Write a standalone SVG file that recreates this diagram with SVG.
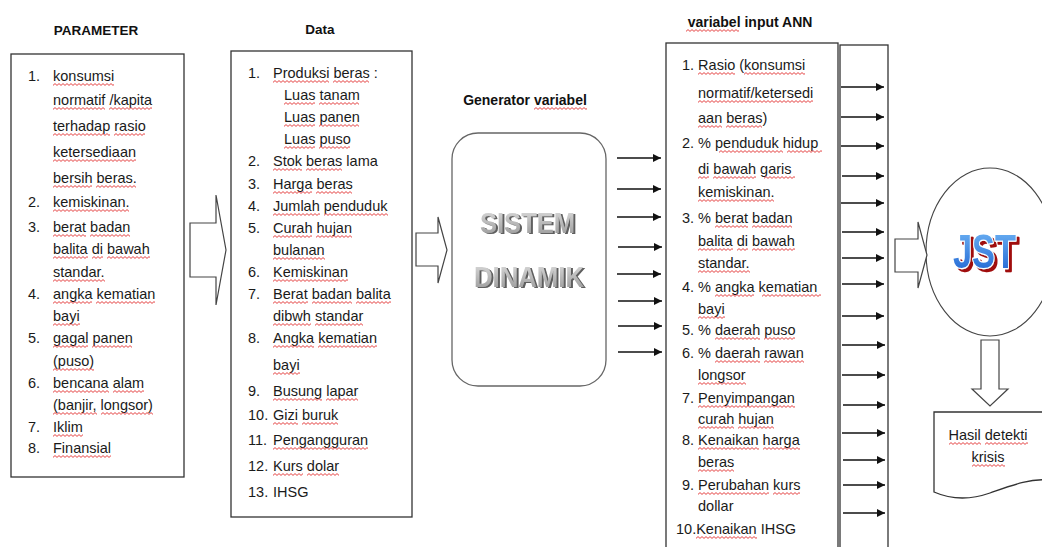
<svg xmlns="http://www.w3.org/2000/svg" width="1042" height="547" viewBox="0 0 1042 547">
  <defs>
    <style>
      .box { fill:#fff; stroke:#333; stroke-width:1.3; }
      .t { font-family:"Liberation Sans", Arial, sans-serif; font-size:14.5px; fill:#1a1a1a; }
      .h { font-family:"Liberation Sans", Arial, sans-serif; font-weight:bold; font-size:13.5px; fill:#111; text-anchor:middle; }
      .sq { fill:url(#wave); }
      .blk { fill:#fff; stroke:#444; stroke-width:1.2; }
      .ln { stroke:#111; stroke-width:1.4; fill:none; marker-end:url(#ah); }
      .art { font-family:"Liberation Sans", Arial, sans-serif; font-weight:bold; }
    </style>
    <marker id="ah" viewBox="0 0 10 10" refX="10" refY="5" markerWidth="9" markerHeight="8" markerUnits="userSpaceOnUse" orient="auto">
      <path d="M0,0 L10,5 L0,10 Z" fill="#111"/>
    </marker>
    <!-- spell-check style squiggle -->
    <pattern id="wave" width="4" height="3" patternUnits="userSpaceOnUse">
      <path d="M0,2.4 L2,0.6 L4,2.4" fill="none" stroke="#e23030" stroke-width="0.9"/>
    </pattern>
    <linearGradient id="greyArt" x1="0" y1="0" x2="0" y2="1">
      <stop offset="0" stop-color="#dedede"/>
      <stop offset="1" stop-color="#959595"/>
    </linearGradient>
    <linearGradient id="blueArt" x1="0" y1="0" x2="0" y2="1">
      <stop offset="0" stop-color="#72b8f6"/>
      <stop offset="1" stop-color="#1a5fd0"/>
    </linearGradient>
    <filter id="greyShadow" x="-10%" y="-20%" width="120%" height="140%">
      <feDropShadow dx="2" dy="1" stdDeviation="0.3" flood-color="#5e5e5e"/>
    </filter>
    <filter id="redShadow" x="-10%" y="-20%" width="130%" height="140%">
      <feDropShadow dx="3" dy="3" stdDeviation="0" flood-color="#a01010"/>
    </filter>
  </defs>

  <rect width="1042" height="547" fill="#fff"/>

  <!-- PARAMETER list -->
  <g id="node-parameter">
    <text class="h" x="96" y="35">PARAMETER</text>
    <rect class="box" x="11" y="54" width="173" height="423"/>
    <g class="t">
      <text x="28" y="81">1.</text>
      <text x="53" y="81">konsumsi</text>
      <text x="53" y="105">normatif /kapita</text>
      <text x="53" y="131">terhadap rasio</text>
      <text x="53" y="157">ketersediaan</text>
      <text x="53" y="183">bersih beras.</text>
      <text x="28" y="207">2.</text>
      <text x="53" y="207">kemiskinan.</text>
      <text x="28" y="232">3.</text>
      <text x="53" y="232">berat badan</text>
      <text x="53" y="254">balita di bawah</text>
      <text x="53" y="277">standar.</text>
      <text x="28" y="299">4.</text>
      <text x="53" y="299">angka kematian</text>
      <text x="53" y="321">bayi</text>
      <text x="28" y="343">5.</text>
      <text x="53" y="343">gagal panen</text>
      <text x="53" y="366">(puso)</text>
      <text x="28" y="388">6.</text>
      <text x="53" y="388">bencana alam</text>
      <text x="53" y="410">(banjir, longsor)</text>
      <text x="28" y="432">7.</text>
      <text x="53" y="432">Iklim</text>
      <text x="28" y="453">8.</text>
      <text x="53" y="453">Finansial</text>
    </g>
    <g>
      <rect class="sq" transform="translate(53,83)" width="61" height="3"/>
      <rect class="sq" transform="translate(53,107)" width="52" height="3"/>
      <rect class="sq" transform="translate(109,107)" width="43" height="3"/>
      <rect class="sq" transform="translate(53,133)" width="57" height="3"/>
      <rect class="sq" transform="translate(114,133)" width="31" height="3"/>
      <rect class="sq" transform="translate(53,159)" width="83" height="3"/>
      <rect class="sq" transform="translate(53,185)" width="39" height="3"/>
      <rect class="sq" transform="translate(96,185)" width="40" height="3"/>
      <rect class="sq" transform="translate(53,209)" width="76" height="3"/>
      <rect class="sq" transform="translate(53,234)" width="33" height="3"/>
      <rect class="sq" transform="translate(90,234)" width="40" height="3"/>
      <rect class="sq" transform="translate(53,256)" width="35" height="3"/>
      <rect class="sq" transform="translate(92,256)" width="11" height="3"/>
      <rect class="sq" transform="translate(107,256)" width="43" height="3"/>
      <rect class="sq" transform="translate(53,279)" width="52" height="3"/>
      <rect class="sq" transform="translate(53,301)" width="39" height="3"/>
      <rect class="sq" transform="translate(96,301)" width="59" height="3"/>
      <rect class="sq" transform="translate(53,323)" width="27" height="3"/>
      <rect class="sq" transform="translate(53,345)" width="35" height="3"/>
      <rect class="sq" transform="translate(92,345)" width="40" height="3"/>
      <rect class="sq" transform="translate(53,368)" width="41" height="3"/>
      <rect class="sq" transform="translate(53,390)" width="56" height="3"/>
      <rect class="sq" transform="translate(113,390)" width="31" height="3"/>
      <rect class="sq" transform="translate(53,412)" width="44" height="3"/>
      <rect class="sq" transform="translate(101,412)" width="52" height="3"/>
      <rect class="sq" transform="translate(53,434)" width="30" height="3"/>
      <rect class="sq" transform="translate(53,455)" width="58" height="3"/>
    </g>
  </g>

  <!-- Data list -->
  <g id="node-data">
    <text class="h" x="320" y="34">Data</text>
    <rect class="box" x="231" y="51" width="181" height="466"/>
    <g class="t">
      <text x="248" y="78">1.</text>
      <text x="273" y="78">Produksi beras :</text>
      <text x="284" y="100">Luas tanam</text>
      <text x="284" y="122">Luas panen</text>
      <text x="284" y="144">Luas puso</text>
      <text x="248" y="166">2.</text>
      <text x="273" y="166">Stok beras lama</text>
      <text x="248" y="189">3.</text>
      <text x="273" y="189">Harga beras</text>
      <text x="248" y="211">4.</text>
      <text x="273" y="211">Jumlah penduduk</text>
      <text x="248" y="233">5.</text>
      <text x="273" y="233">Curah hujan</text>
      <text x="273" y="255">bulanan</text>
      <text x="248" y="277">6.</text>
      <text x="273" y="277">Kemiskinan</text>
      <text x="248" y="299">7.</text>
      <text x="273" y="299">Berat badan balita</text>
      <text x="273" y="321">dibwh standar</text>
      <text x="248" y="343">8.</text>
      <text x="273" y="343">Angka kematian</text>
      <text x="273" y="370">bayi</text>
      <text x="248" y="396">9.</text>
      <text x="273" y="396">Busung lapar</text>
      <text x="248" y="420">10.</text>
      <text x="273" y="420">Gizi buruk</text>
      <text x="248" y="445">11.</text>
      <text x="273" y="445">Pengangguran</text>
      <text x="248" y="471">12.</text>
      <text x="273" y="471">Kurs dolar</text>
      <text x="248" y="497">13.</text>
      <text x="273" y="497">IHSG</text>
    </g>
    <g>
      <rect class="sq" transform="translate(273,80)" width="56" height="3"/>
      <rect class="sq" transform="translate(333,80)" width="36" height="3"/>
      <rect class="sq" transform="translate(284,102)" width="31" height="3"/>
      <rect class="sq" transform="translate(319,102)" width="40" height="3"/>
      <rect class="sq" transform="translate(284,124)" width="31" height="3"/>
      <rect class="sq" transform="translate(319,124)" width="40" height="3"/>
      <rect class="sq" transform="translate(284,146)" width="31" height="3"/>
      <rect class="sq" transform="translate(319,146)" width="31" height="3"/>
      <rect class="sq" transform="translate(273,168)" width="29" height="3"/>
      <rect class="sq" transform="translate(306,168)" width="36" height="3"/>
      <rect class="sq" transform="translate(273,191)" width="39" height="3"/>
      <rect class="sq" transform="translate(316,191)" width="36" height="3"/>
      <rect class="sq" transform="translate(273,213)" width="47" height="3"/>
      <rect class="sq" transform="translate(324,213)" width="64" height="3"/>
      <rect class="sq" transform="translate(273,235)" width="39" height="3"/>
      <rect class="sq" transform="translate(316,235)" width="36" height="3"/>
      <rect class="sq" transform="translate(273,257)" width="52" height="3"/>
      <rect class="sq" transform="translate(273,279)" width="75" height="3"/>
      <rect class="sq" transform="translate(273,301)" width="35" height="3"/>
      <rect class="sq" transform="translate(312,301)" width="40" height="3"/>
      <rect class="sq" transform="translate(356,301)" width="35" height="3"/>
      <rect class="sq" transform="translate(273,323)" width="38" height="3"/>
      <rect class="sq" transform="translate(315,323)" width="48" height="3"/>
      <rect class="sq" transform="translate(273,345)" width="41" height="3"/>
      <rect class="sq" transform="translate(318,345)" width="59" height="3"/>
      <rect class="sq" transform="translate(273,372)" width="27" height="3"/>
      <rect class="sq" transform="translate(273,398)" width="49" height="3"/>
      <rect class="sq" transform="translate(326,398)" width="32" height="3"/>
      <rect class="sq" transform="translate(273,422)" width="25" height="3"/>
      <rect class="sq" transform="translate(302,422)" width="36" height="3"/>
      <rect class="sq" transform="translate(273,447)" width="95" height="3"/>
      <rect class="sq" transform="translate(273,473)" width="30" height="3"/>
      <rect class="sq" transform="translate(307,473)" width="32" height="3"/>
    </g>
  </g>

  <!-- Variable generator: system dynamics -->
  <g id="node-sistem-dinamik">
    <text class="h" x="525" y="105" style="font-size:14px">Generator variabel</text>
    <rect class="sq" transform="translate(534,107)" width="53" height="3"/>
    <rect x="452" y="133" width="154" height="253" rx="26" ry="26" fill="#fff" stroke="#666" stroke-width="1.3"/>
    <g class="art" font-size="29" fill="url(#greyArt)" filter="url(#greyShadow)">
      <text x="480" y="233" textLength="95" lengthAdjust="spacingAndGlyphs">SISTEM</text>
      <text x="474" y="287" textLength="110" lengthAdjust="spacingAndGlyphs">DINAMIK</text>
    </g>
  </g>

  <!-- ANN input variables -->
  <g id="node-variabel-ann">
    <text class="h" x="750" y="27" style="font-size:14px">variabel input ANN</text>
    <rect class="sq" transform="translate(686,29)" width="53" height="3"/>
    <rect class="box" x="666" y="43" width="172" height="520"/>
    <g class="t" xml:space="preserve">
      <text x="682" y="70">1. Rasio (konsumsi</text>
      <text x="698" y="98">normatif/ketersedi</text>
      <text x="698" y="123">aan beras)</text>
      <text x="682" y="148">2. %  penduduk hidup</text>
      <text x="698" y="174">di bawah  garis</text>
      <text x="698" y="197">kemiskinan.</text>
      <text x="682" y="223">3. % berat badan</text>
      <text x="698" y="246">balita di bawah</text>
      <text x="698" y="268">standar.</text>
      <text x="682" y="292">4. % angka  kematian</text>
      <text x="698" y="314">bayi</text>
      <text x="682" y="335">5. % daerah puso</text>
      <text x="682" y="358">6. % daerah rawan</text>
      <text x="698" y="380">longsor</text>
      <text x="682" y="403">7. Penyimpangan</text>
      <text x="698" y="424">curah hujan</text>
      <text x="682" y="445">8. Kenaikan harga</text>
      <text x="698" y="467">beras</text>
      <text x="682" y="490">9. Perubahan kurs</text>
      <text x="698" y="511">dollar</text>
      <text x="676" y="534">10.Kenaikan IHSG</text>
    </g>
    <g>
      <rect class="sq" transform="translate(698,72)" width="37" height="3"/>
      <rect class="sq" transform="translate(744,72)" width="61" height="3"/>
      <rect class="sq" transform="translate(698,100)" width="115" height="3"/>
      <rect class="sq" transform="translate(698,125)" width="24" height="3"/>
      <rect class="sq" transform="translate(726,125)" width="36" height="3"/>
      <rect class="sq" transform="translate(719,150)" width="64" height="3"/>
      <rect class="sq" transform="translate(787,150)" width="35" height="3"/>
      <rect class="sq" transform="translate(698,176)" width="11" height="3"/>
      <rect class="sq" transform="translate(713,176)" width="43" height="3"/>
      <rect class="sq" transform="translate(764,176)" width="31" height="3"/>
      <rect class="sq" transform="translate(698,199)" width="76" height="3"/>
      <rect class="sq" transform="translate(715,225)" width="33" height="3"/>
      <rect class="sq" transform="translate(752,225)" width="40" height="3"/>
      <rect class="sq" transform="translate(698,248)" width="35" height="3"/>
      <rect class="sq" transform="translate(737,248)" width="11" height="3"/>
      <rect class="sq" transform="translate(752,248)" width="43" height="3"/>
      <rect class="sq" transform="translate(698,270)" width="52" height="3"/>
      <rect class="sq" transform="translate(715,294)" width="39" height="3"/>
      <rect class="sq" transform="translate(762,294)" width="59" height="3"/>
      <rect class="sq" transform="translate(698,316)" width="27" height="3"/>
      <rect class="sq" transform="translate(715,337)" width="45" height="3"/>
      <rect class="sq" transform="translate(764,337)" width="31" height="3"/>
      <rect class="sq" transform="translate(715,360)" width="45" height="3"/>
      <rect class="sq" transform="translate(764,360)" width="40" height="3"/>
      <rect class="sq" transform="translate(698,382)" width="48" height="3"/>
      <rect class="sq" transform="translate(698,405)" width="97" height="3"/>
      <rect class="sq" transform="translate(698,426)" width="36" height="3"/>
      <rect class="sq" transform="translate(738,426)" width="36" height="3"/>
      <rect class="sq" transform="translate(698,447)" width="61" height="3"/>
      <rect class="sq" transform="translate(763,447)" width="37" height="3"/>
      <rect class="sq" transform="translate(698,469)" width="36" height="3"/>
      <rect class="sq" transform="translate(698,492)" width="71" height="3"/>
      <rect class="sq" transform="translate(773,492)" width="27" height="3"/>
      <rect class="sq" transform="translate(696,536)" width="61" height="3"/>
    </g>
  </g>

  <!-- input column feeding the network -->
  <g id="node-ann-inputs">
    <rect class="box" x="840" y="45" width="48" height="520"/>
  </g>

  <!-- neural network (JST) -->
  <g id="node-jst">
    <ellipse cx="990" cy="252" rx="64" ry="84" fill="#fff" stroke="#444" stroke-width="1.1"/>
    <text class="art" x="953" y="268" font-size="48" textLength="63" lengthAdjust="spacingAndGlyphs" fill="url(#blueArt)" stroke="#fff" stroke-width="2.5" stroke-linejoin="round" paint-order="stroke" filter="url(#redShadow)">JST</text>
  </g>

  <!-- detection result document -->
  <g id="node-hasil">
    <path d="M934,412 H1052 V480 C1030,478 1010,486 990,493 C970,500 950,499 934,492 Z" fill="#fff" stroke="#333" stroke-width="1.3"/>
    <g class="t" text-anchor="middle">
      <text x="988" y="440">Hasil detekti</text>
      <text x="988" y="462">krisis</text>
    </g>
    <rect class="sq" transform="translate(949,442)" width="32" height="3"/>
    <rect class="sq" transform="translate(985,442)" width="43" height="3"/>
    <rect class="sq" transform="translate(972,464)" width="33" height="3"/>
  </g>

  <g id="connectors">
    <!-- block arrows -->
    <path class="blk" d="M190,223 H216 V195 L226,250 L216,305 V277 H190 Z"/>
    <path class="blk" d="M416,233 H438 V217 L447,250 L438,283 V266 H416 Z"/>
    <path class="blk" d="M895,239 H918 V222 L927,255 L918,288 V272 H895 Z"/>
    <path class="blk" d="M981,340 H999 V389 H1008 L990,406 L972,389 H981 Z"/>
    <!-- generated variables -->
    <line class="ln" x1="617" y1="158" x2="661" y2="158"/>
    <line class="ln" x1="617" y1="189" x2="661" y2="189"/>
    <line class="ln" x1="617" y1="217" x2="661" y2="217"/>
    <line class="ln" x1="618" y1="247" x2="662" y2="247"/>
    <line class="ln" x1="617" y1="274" x2="661" y2="274"/>
    <line class="ln" x1="618" y1="301" x2="662" y2="301"/>
    <line class="ln" x1="618" y1="326" x2="662" y2="326"/>
    <line class="ln" x1="618" y1="352" x2="662" y2="352"/>
    <!-- inputs to the network -->
    <line class="ln" x1="841" y1="87" x2="884" y2="87"/>
    <line class="ln" x1="841" y1="117" x2="884" y2="117"/>
    <line class="ln" x1="841" y1="146" x2="884" y2="146"/>
    <line class="ln" x1="842" y1="176" x2="884" y2="176"/>
    <line class="ln" x1="841" y1="203" x2="884" y2="203"/>
    <line class="ln" x1="842" y1="232" x2="884" y2="232"/>
    <line class="ln" x1="842" y1="258" x2="884" y2="258"/>
    <line class="ln" x1="842" y1="284" x2="884" y2="284"/>
    <line class="ln" x1="842" y1="316" x2="884" y2="316"/>
    <line class="ln" x1="842" y1="345" x2="885" y2="345"/>
    <line class="ln" x1="842" y1="375" x2="885" y2="375"/>
    <line class="ln" x1="843" y1="405" x2="885" y2="405"/>
    <line class="ln" x1="842" y1="433" x2="885" y2="433"/>
    <line class="ln" x1="843" y1="460" x2="885" y2="460"/>
    <line class="ln" x1="843" y1="485" x2="885" y2="485"/>
    <line class="ln" x1="843" y1="513" x2="885" y2="513"/>
  </g>
</svg>
